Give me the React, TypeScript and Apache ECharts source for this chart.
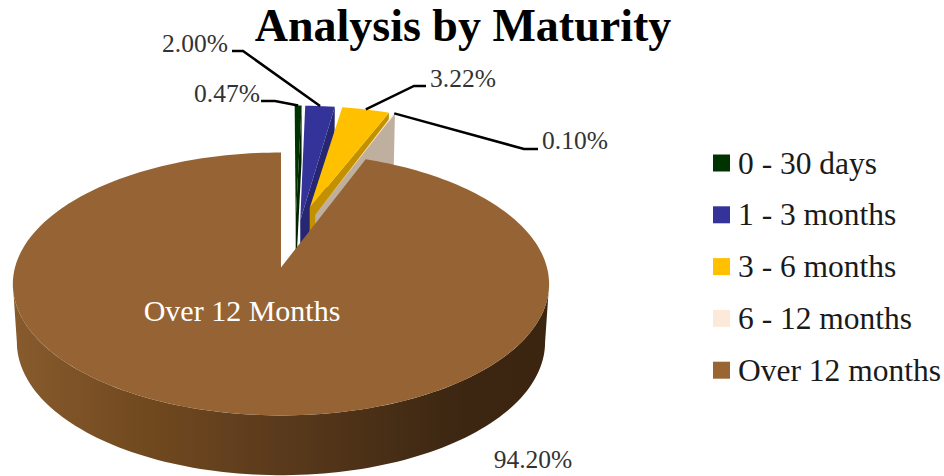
import React, { useEffect, useRef } from "react";
import * as echarts from "echarts";

const titleText = "Analysis by Maturity";
const categories = ["0 - 30 days", "1 - 3 months", "3 - 6 months", "6 - 12 months", "Over 12 months"];
const values = [0.47, 2.0, 3.22, 0.1, 94.2];
const topColors = ["#003300", "#333399", "#FFC000", "#FDE9D9", "#966434"];
const wallColors = ["#002600", "#262673", "#C39100", "#BFAF9F", "#5c3b1d"];
const legendColors = ["#003300", "#333399", "#FFC000", "#FDE9D9", "#996633"];
const explosions = [46, 46, 46, 46, 72];
const apexShifts: [number, number][] = [
  [1, 0],
  [2, 0],
  [4, -13],
  [5, -7],
  [0, 0],
];
const labelAnchors: ([number, number, number] | null)[] = [
  [261, 101, 275],
  [232, 51, 243],
  [426, 86, 414],
  [538, 149, 524],
  null,
];
const labelPlaces: [number, number][] = [
  [227, 93],
  [195, 43],
  [463, 78],
  [575, 140],
  [533, 459],
];
const innerLabel = "Over 12 Months";

const FONT = '"Liberation Serif", serif';
const S = 266;
const C = 129.4;
const K = 0.1255;
const CX = 294;
const CY = 239;
const EXPLODE_V = 0.402;
const RAD = Math.PI / 180;
const WALL_FROM = Math.acos(-K) / RAD;
const WALL_TO = 360 - WALL_FROM;

const total = values.reduce((a, b) => a + b, 0);
const starts = values.map((_, i) => (values.slice(0, i).reduce((a, b) => a + b, 0) / total) * 360);

function project(deg: number): [number, number, number] {
  const x = Math.sin(deg * RAD);
  const y = -Math.cos(deg * RAD);
  const den = 1 - K * y;
  return [(S * x) / den, (C * y) / den, y];
}

function renderSlice(index: number) {
  return (_params: any, api: any) => {
    const value = api.value(0) as number;
    const a0 = starts[index];
    const a1 = a0 + (value / total) * 360;
    const mid = (a0 + a1) / 2;
    const ax = CX + explosions[index] * Math.sin(mid * RAD);
    const ay = CY - explosions[index] * EXPLODE_V * Math.cos(mid * RAD);
    const apex: [number, number] = [ax + apexShifts[index][0], ay + apexShifts[index][1]];

    const top = (deg: number): [number, number] => {
      const p = project(deg);
      return [ax + p[0], ay + p[1]];
    };
    const bottom = (deg: number): [number, number] => {
      const p = project(deg);
      return [ax + p[0] * 0.985, ay + p[1] * 0.985 + 58 + 4 * p[2]];
    };
    const arc = (from: number, to: number, fn: (d: number) => [number, number]) => {
      const n = Math.max(2, Math.ceil(Math.abs(to - from) / 1.5));
      const pts: [number, number][] = [];
      for (let i = 0; i <= n; i++) pts.push(fn(from + ((to - from) * i) / n));
      return pts;
    };

    const children: any[] = [];
    const w0 = Math.max(a0, WALL_FROM);
    const w1 = Math.min(a1, WALL_TO);
    if (w1 > w0) {
      const wall = [...arc(w0, w1, top), ...arc(w1, w0, bottom)];
      const fill =
        index === 4
          ? new echarts.graphic.LinearGradient(0, 0, 1, 0, [
              { offset: 0, color: "#875b2d" },
              { offset: 0.25, color: "#71491f" },
              { offset: 0.5, color: "#5a3a1c" },
              { offset: 0.75, color: "#432b14" },
              { offset: 0.85, color: "#3c2612" },
              { offset: 1, color: "#3b2511" },
            ])
          : wallColors[index];
      children.push({ type: "polygon", shape: { points: wall }, style: { fill } });
    }
    if (index !== 4) {
      const o = top(a1);
      const b = bottom(a1);
      children.push({
        type: "polygon",
        shape: { points: [apex, o, b, [apex[0], apex[1] + 56]] },
        style: { fill: wallColors[index] },
      });
    }
    children.push({
      type: "polygon",
      shape: { points: [apex, ...arc(a0, a1, top)] },
      style: { fill: topColors[index] },
    });

    const anchor = labelAnchors[index];
    if (anchor) {
      const end = top(mid);
      children.push({
        type: "polyline",
        shape: { points: [[anchor[0], anchor[1]], [anchor[2], anchor[1]], end] },
        style: { fill: "none", stroke: "#000000", lineWidth: 2.5 },
        z2: 10,
      });
    }
    children.push({
      type: "text",
      z2: 11,
      style: {
        text: value.toFixed(2) + "%",
        x: labelPlaces[index][0],
        y: labelPlaces[index][1],
        fill: "#333333",
        font: `25.5px ${FONT}`,
        textAlign: "center",
        textVerticalAlign: "middle",
      },
    });
    if (index === 4) {
      children.push({
        type: "text",
        z2: 11,
        style: {
          text: innerLabel,
          x: 242,
          y: 310,
          fill: "#ffffff",
          font: `30px ${FONT}`,
          textAlign: "center",
          textVerticalAlign: "middle",
        },
      });
    }
    return { type: "group", children };
  };
}

export default function App() {
  const ref = useRef<HTMLDivElement>(null);
  useEffect(() => {
    if (!ref.current) return;
    const chart = echarts.init(ref.current, undefined, { renderer: "svg" });
    chart.setOption({
      animation: false,
      backgroundColor: "#ffffff",
      title: {
        text: titleText,
        left: 463,
        top: 0,
        textAlign: "center",
        padding: 0,
        textStyle: { fontFamily: FONT, fontWeight: "bold", fontSize: 46, color: "#000000", lineHeight: 50 },
      },
      legend: {
        orient: "vertical",
        left: 713,
        top: 147,
        padding: 0,
        itemWidth: 17,
        itemHeight: 17,
        itemGap: 19.8,
        icon: "rect",
        selectedMode: false,
        data: categories,
        textStyle: { fontFamily: FONT, fontSize: 31.5, color: "#1a1a1a", lineHeight: 30, padding: [0, 0, 0, 3] },
      },
      series: categories.map((name, i) => ({
        type: "custom",
        name,
        coordinateSystem: "none",
        silent: true,
        itemStyle: { color: legendColors[i] },
        renderItem: renderSlice(i),
        data: [[values[i]]],
      })),
    });
    return () => chart.dispose();
  }, []);
  return <div ref={ref} style={{ position: "absolute", left: 0, top: 0, width: 944, height: 476 }} />;
}
